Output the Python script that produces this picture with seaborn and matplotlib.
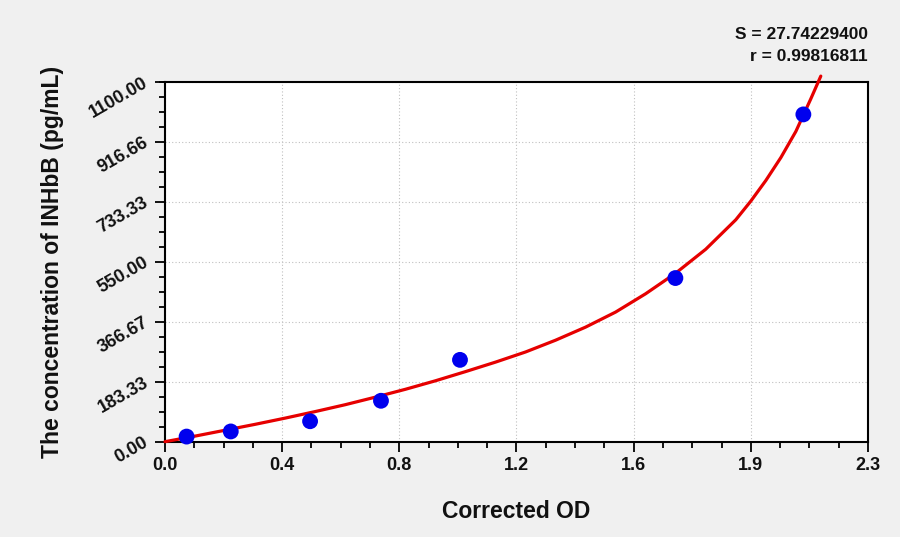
import matplotlib
matplotlib.use("Agg")
import matplotlib.pyplot as plt
import seaborn as sns
import pandas as pd
from matplotlib.ticker import AutoMinorLocator

# standard points
od_values = [0.072, 0.219, 0.483, 0.719, 0.982, 1.699, 2.125]
concentrations = [15.6, 31.25, 62.5, 125, 250, 500, 1000]

# fitted curve, sampled by eye along the red line
curve_od = [0.0, 0.1, 0.2, 0.3, 0.4, 0.5, 0.6, 0.7, 0.8, 0.9, 1.0, 1.1,
            1.2, 1.3, 1.4, 1.5, 1.6, 1.7, 1.8, 1.9, 1.95, 2.0, 2.05, 2.1,
            2.15, 2.183]
curve_conc = [0, 17, 35, 53, 72, 92, 113, 136, 160, 186, 214, 243,
              274, 310, 350, 396, 452, 515, 588, 678, 735, 798, 868, 948,
              1048, 1117]

x_ticks = [0.0, 0.39, 0.78, 1.17, 1.56, 1.95, 2.34]
x_labels = ['0.0', '0.4', '0.8', '1.2', '1.6', '1.9', '2.3']
y_ticks = [0, 183.33, 366.67, 550.0, 733.33, 916.66, 1100.0]
y_labels = ['0.00', '183.33', '366.67', '550.00', '733.33', '916.66', '1100.00']

sns.set_style("white")
plt.rcParams['font.family'] = ['Liberation Sans', 'DejaVu Sans']
plt.rcParams['font.weight'] = 'bold'
plt.rcParams['text.color'] = '#111111'
plt.rcParams['axes.labelcolor'] = '#111111'
plt.rcParams['xtick.color'] = '#111111'
plt.rcParams['ytick.color'] = '#111111'

fig = plt.figure(figsize=(9, 5.37), dpi=100, facecolor='#f0f0f0')
ax = fig.add_axes([0.1833, 0.1775, 0.7811, 0.6704])
ax.set_facecolor('white')

pts = pd.DataFrame({'od': od_values, 'conc': concentrations})
crv = pd.DataFrame({'od': curve_od, 'conc': curve_conc})

sns.lineplot(data=crv, x='od', y='conc', ax=ax, color='#e60000',
             linewidth=2.3, clip_on=False, zorder=3, sort=False)
sns.scatterplot(data=pts, x='od', y='conc', ax=ax, color='#0000ee',
                s=130, edgecolor='none', zorder=4, clip_on=False)

ax.set_xlim(0, 2.34)
ax.set_ylim(0, 1100)
ax.set_xticks(x_ticks)
ax.set_xticklabels(x_labels, fontsize=13, fontweight='bold')
ax.set_yticks(y_ticks)
ax.set_yticklabels(y_labels, fontsize=13, fontweight='bold',
                   rotation=30, rotation_mode='anchor', ha='right', va='center')
ax.xaxis.set_minor_locator(AutoMinorLocator(4))
ax.yaxis.set_minor_locator(AutoMinorLocator(4))
ax.tick_params(which='major', direction='out', length=7, width=1.3,
               color='black', pad=4, left=True, bottom=True)
ax.tick_params(which='minor', direction='out', length=4.5, width=1.3,
               color='black', left=True, bottom=True)
ax.tick_params(axis='y', which='major', pad=6)

ax.grid(True, which='major', linestyle=(0, (1, 2)), color='#c0c0c0', linewidth=0.8)
for sp in ax.spines.values():
    sp.set_visible(True)
    sp.set_color('black')
    sp.set_linewidth(1.5)

ax.set_xlabel('Corrected OD', fontsize=16.5, fontweight='bold', labelpad=19)
ax.set_ylabel('The concentration of INHbB (pg/mL)', fontsize=16.5,
              fontweight='bold', labelpad=16)

fig.text(0.9644, 0.935, 'S = 27.74229400', ha='right', va='center',
         fontsize=12.5, fontweight='bold')
fig.text(0.9644, 0.895, 'r = 0.99816811', ha='right', va='center',
         fontsize=12.5, fontweight='bold')

fig.savefig('out.png', dpi=100, facecolor=fig.get_facecolor())
